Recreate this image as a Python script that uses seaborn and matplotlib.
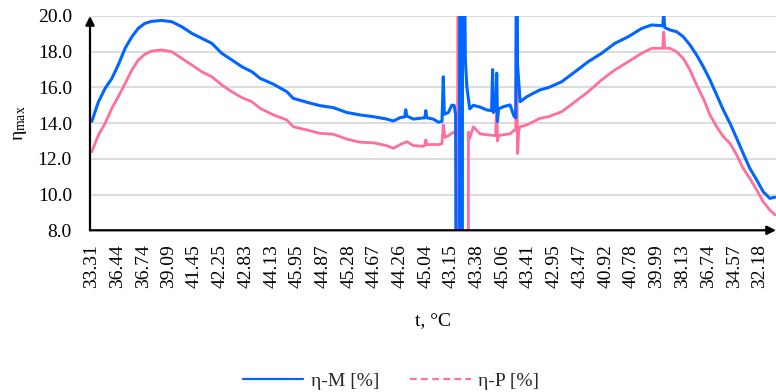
import numpy as np
import pandas as pd
import matplotlib
matplotlib.use("Agg")
import matplotlib.pyplot as plt
import seaborn as sns
from matplotlib.lines import Line2D

# ---- data ----
tick_labels = ["33.31", "36.44", "36.74", "39.09", "41.45", "42.25", "42.83", "44.13",
               "45.95", "44.87", "45.28", "44.67", "44.26", "45.04", "43.15", "43.38",
               "45.06", "43.41", "42.95", "43.47", "40.92", "40.78", "39.99", "38.13",
               "36.74", "34.57", "32.18"]
tick_samples = [i * 100 for i in range(len(tick_labels))]

m_sample = [0, 26, 52, 78, 103, 130, 156, 181, 207, 233, 272, 311, 350, 389, 428, 467,
            506, 545, 584, 623, 655, 707, 759, 784, 837, 888, 940, 992, 1044, 1097, 1148,
            1174, 1200, 1218, 1222, 1226, 1251, 1296, 1300, 1304, 1329, 1349, 1363, 1368,
            1372, 1388, 1401, 1410, 1416, 1419, 1431, 1432, 1435, 1436, 1442, 1443, 1446,
            1454, 1460, 1471, 1485, 1511, 1537, 1556, 1560, 1563, 1572, 1576, 1579, 1583,
            1602, 1628, 1643, 1650, 1654, 1657, 1667, 1693, 1718, 1744, 1777, 1829, 1881,
            1932, 1984, 2036, 2088, 2140, 2179, 2222, 2226, 2230, 2250, 2276, 2302, 2328,
            2354, 2380, 2406, 2432, 2458, 2484, 2510, 2535, 2561, 2588, 2613, 2639, 2659]
m_value = [14.1, 15.2, 15.95, 16.5, 17.26, 18.2, 18.84, 19.31, 19.59, 19.7, 19.75, 19.68,
           19.4, 19.03, 18.75, 18.47, 17.91, 17.54, 17.16, 16.88, 16.51, 16.18, 15.76,
           15.39, 15.17, 14.98, 14.87, 14.6, 14.46, 14.36, 14.23, 14.12, 14.31, 14.35,
           14.75, 14.4, 14.23, 14.3, 14.7, 14.3, 14.23, 14.05, 14.1, 16.6, 14.5, 14.6,
           15.0, 15.0, 14.5, -5, -5, 30, 30, -5, -5, 30, 30, 17.5, 16.0, 14.8, 15.0, 14.9,
           14.74, 14.7, 17.0, 14.6, 14.8, 16.8, 14.1, 14.8, 14.92, 15.02, 14.4, 14.3, 30,
           17.3, 15.2, 15.48, 15.67, 15.86, 15.99, 16.32, 16.88, 17.44, 17.91, 18.47,
           18.84, 19.3, 19.5, 19.45, 20.2, 19.35, 19.22, 19.12, 18.84, 18.38, 17.82, 17.16,
           16.42, 15.58, 14.74, 13.99, 13.15, 12.31, 11.47, 10.82, 10.16, 9.79, 9.85]

p_sample = [0, 26, 52, 78, 103, 130, 156, 181, 207, 233, 272, 311, 350, 389, 428, 467,
            506, 545, 584, 623, 655, 707, 759, 784, 837, 888, 940, 992, 1044, 1097, 1148,
            1174, 1200, 1226, 1251, 1290, 1296, 1300, 1304, 1329, 1349, 1363, 1368, 1375,
            1388, 1401, 1410, 1416, 1424, 1426, 1427, 1465, 1466, 1471, 1485, 1511,
            1537, 1572, 1576, 1579, 1583, 1602, 1628, 1643, 1650, 1654, 1657, 1662, 1667,
            1693, 1718, 1744, 1777, 1829, 1881, 1932, 1984, 2036, 2088, 2140, 2179, 2222,
            2226, 2230, 2250, 2276, 2302, 2328, 2354, 2380, 2406, 2432, 2458, 2484, 2510,
            2535, 2561, 2588, 2613, 2639, 2659]
p_value = [12.4, 13.34, 13.99, 14.83, 15.48, 16.23, 16.98, 17.54, 17.86, 18.04, 18.1, 18.0,
           17.63, 17.26, 16.88, 16.6, 16.14, 15.76, 15.43, 15.2, 14.83, 14.46, 14.18, 13.8,
           13.62, 13.43, 13.38, 13.11, 12.93, 12.9, 12.74, 12.59, 12.8, 12.96, 12.75, 12.7,
           12.75, 13.06, 12.8, 12.8, 12.8, 12.85, 13.9, 13.2, 13.3, 13.43, 13.5, 13.4, 13.4,
           30, -5, -5, 13.5, 13.15, 13.8, 13.4, 13.35, 13.3, 15.3, 13.0, 13.3, 13.35,
           13.4, 13.6, 13.6, 18.5, 12.3, 13.6, 13.8, 13.9, 14.08, 14.27, 14.36, 14.64, 15.2,
           15.76, 16.42, 16.98, 17.44, 17.91, 18.19, 18.19, 19.1, 18.2, 18.19, 18.0, 17.63,
           16.98, 16.14, 15.39, 14.46, 13.8, 13.24, 12.87, 12.22, 11.47, 10.91, 10.26, 9.6,
           9.14, 8.86]

y_ticks = [8, 10, 12, 14, 16, 18, 20]

BLUE = "#0066ff"
PINK = "#ff6f9c"

sns.set_theme(style="white")
plt.rcParams["font.family"] = ["Liberation Serif", "DejaVu Serif"]
plt.rcParams["mathtext.fontset"] = "custom"
plt.rcParams["mathtext.rm"] = "Liberation Serif"
plt.rcParams["mathtext.it"] = "Liberation Serif:italic"
FS = 14

fig = plt.figure(figsize=(7.76, 3.92), dpi=100)
W, H = 776, 392
ax = fig.add_axes([90 / W, 1 - 230.3 / H, 686 / W, (230.3 - 16) / H])

df_m = pd.DataFrame({"sample": m_sample, "value": m_value})
df_p = pd.DataFrame({"sample": p_sample, "value": p_value})
sns.lineplot(data=df_p, x="sample", y="value", ax=ax, color=PINK, lw=2.0,
             estimator=None, sort=False)
sns.lineplot(data=df_m, x="sample", y="value", ax=ax, color=BLUE, lw=2.2,
             estimator=None, sort=False)

ax.set_ylim(8, 20)
ax.set_xlim(-7, 2663)
ax.set_yticks(y_ticks)
ax.set_yticklabels([f"{v:.1f}" for v in y_ticks], fontsize=FS, color="black")
ax.set_xticks(tick_samples)
ax.set_xticklabels(tick_labels, rotation=90, fontsize=FS, color="black")
ax.tick_params(axis="both", length=0)
ax.tick_params(axis="x", pad=10)
ax.tick_params(axis="y", pad=13)

ax.yaxis.grid(True, color="#d9d9d9", lw=1.3)
ax.xaxis.grid(False)
ax.set_axisbelow(True)
for s in ax.spines.values():
    s.set_visible(False)

ax.annotate("", xy=(0, 1), xytext=(0, 0), xycoords="axes fraction",
            arrowprops=dict(arrowstyle="-|>", color="black", lw=1.6,
                            mutation_scale=13, shrinkA=0, shrinkB=0), annotation_clip=False)
ax.annotate("", xy=(1, 0), xytext=(0, 0), xycoords="axes fraction",
            arrowprops=dict(arrowstyle="-|>", color="black", lw=1.6,
                            mutation_scale=13, shrinkA=0, shrinkB=0), annotation_clip=False)

ax.set_ylabel(r"η$_{\mathrm{max}}$", fontsize=FS, color="black", labelpad=6)
ax.set_xlabel("t, °C", fontsize=FS, color="black", labelpad=17)

handles = [Line2D([], [], color=BLUE, lw=1.6, linestyle="-"),
           Line2D([], [], color=PINK, lw=1.6, linestyle=(0, (3, 2)))]
fig.legend(handles, ["η-M [%]", "η-P [%]"], loc="center",
           bbox_to_anchor=(391 / W, 1 - 381 / H), ncol=2, frameon=False,
           fontsize=FS, handlelength=3.1, handletextpad=0.4, columnspacing=1.6)

fig.savefig("out.png", dpi=100, facecolor="white")
